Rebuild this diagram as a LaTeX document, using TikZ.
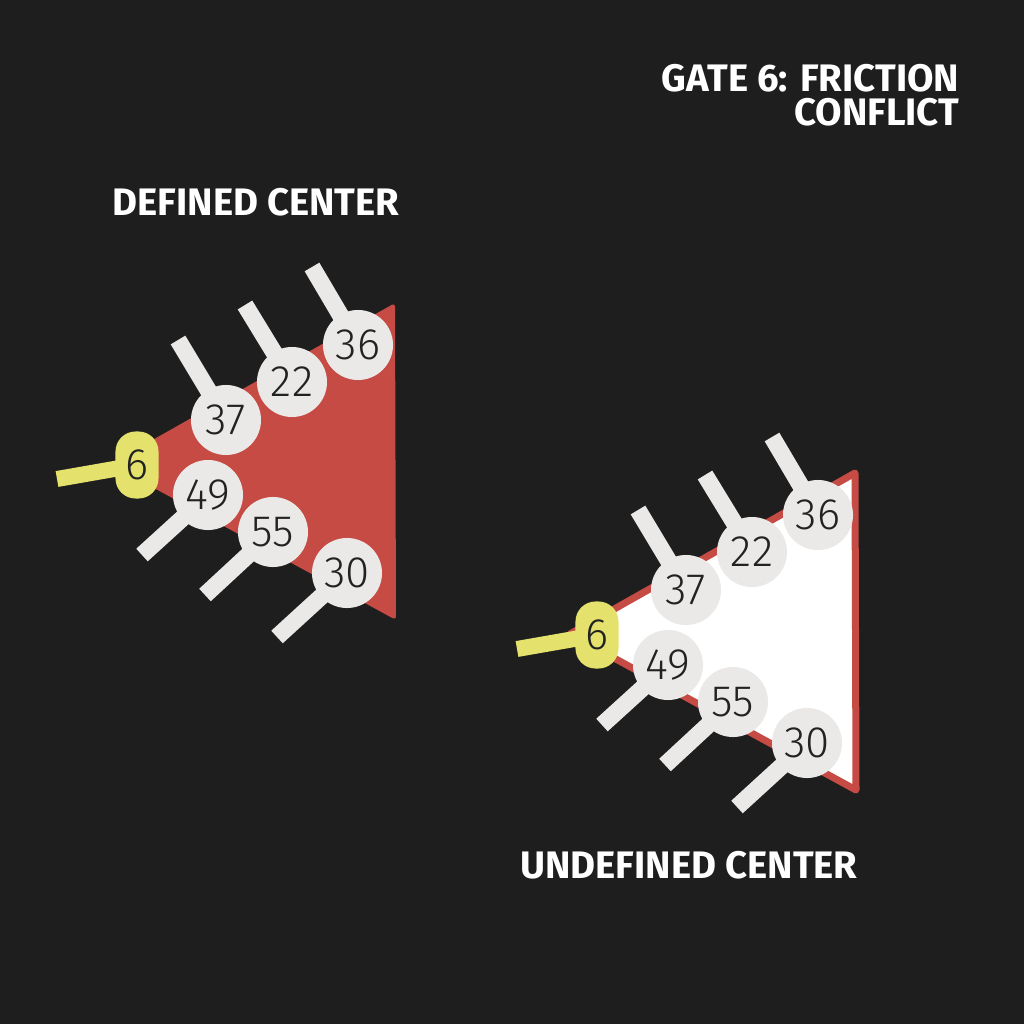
\documentclass[tikz,border=0pt]{standalone}
\usepackage{fontspec}
\setmainfont{Fira Sans}
\newfontfamily\numfont{Fira Sans Light}
\usepackage{tikz}

\definecolor{bgdark}{HTML}{1E1E1E}
\definecolor{gatered}{HTML}{C64B45}
\definecolor{chgray}{HTML}{EBE9E7}
\definecolor{gateyellow}{HTML}{E4E26C}
\definecolor{numink}{HTML}{222222}

\tikzset{
	channel/.style={circle, fill=chgray, minimum size=0.7cm, inner sep=0pt, text=numink, font=\numfont\fontsize{12.5}{13}\selectfont},
	stem/.style={line width=0.17cm, color=chgray},
	gatestem/.style={line width=0.16cm, color=gateyellow},
	gatepill/.style={rounded corners=0.2cm, fill=gateyellow, minimum width=0.43cm, minimum height=0.67cm, inner sep=0pt, text=numink, font=\numfont\fontsize{12.5}{13}\selectfont},
	heading/.style={text=white, inner sep=0pt, font=\bfseries\fontsize{10.9}{9.7}\selectfont}
}

% one gate with its six channels, #1 = name prefix, #2 = style of the centre
\newcommand{\gatecluster}[2]{
	\path[#2] (110, 464) -- (395, 303) -- (396, 620) -- cycle;
	\foreach \n/\x/\y/\dx/\dy in {36/358/345/-46/-78, 22/292/382/-47/-77, 37/226/420/-48/-80, 49/208/495/-66/60, 55/273/532/-68/63, 30/347/573/-70/64}{
		\coordinate (#1c\n) at (\x, \y);
		\draw[stem] (#1c\n) -- ++(\dx, \dy);
		\node[channel] (#1n\n) at (#1c\n) {\n};
	}
	\coordinate (#1g) at (137, 465);
	\draw[gatestem] (#1g) -- ++(-80, 14);
	\node[gatepill] (#1gate) at (#1g) {6};
}

\begin{document}
\begin{tikzpicture}[x=0.01cm, y=-0.01cm]
	%%%%% START %%%%%
	
	\fill[bgdark] (0, 0) rectangle (1024, 1024);
	\useasboundingbox (0, 0) rectangle (1024, 1024);
	
	\node[heading, anchor=east, align=right] (title) at (960, 95) {GATE 6: FRICTION\\CONFLICT};
	\node[heading] (defd) at (256, 202) {DEFINED CENTER};
	\node[heading] (undefd) at (689, 865) {UNDEFINED CENTER};
	
	% defined
	\gatecluster{L}{fill=gatered, rounded corners=1pt}
	
	% undefined
	\begin{scope}[shift={(460, 170)}]
		\gatecluster{R}{fill=white, draw=gatered, line width=0.07cm, line join=round}
	\end{scope}
	
	%%%%% END %%%%%
\end{tikzpicture}
\end{document}
